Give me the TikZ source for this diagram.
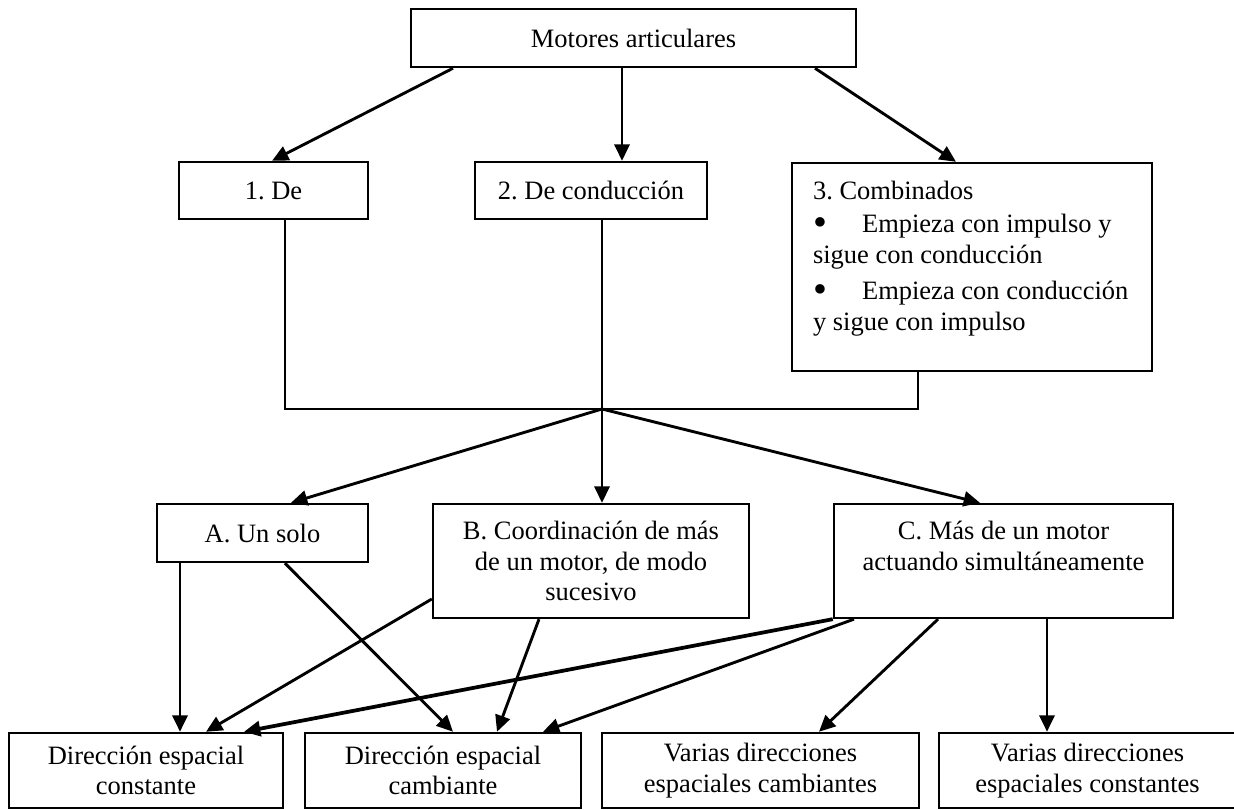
\documentclass[tikz,border=0pt]{standalone}
\usepackage{fontspec}
\setmainfont{Liberation Serif}
\usepackage{tikz}
\usetikzlibrary{arrows.meta}
\frenchspacing

\newcommand{\bigbullet}{\makebox[22.2pt][l]{\raisebox{-1.3pt}{\fontsize{18pt}{0pt}\selectfont\textbullet}}}

\begin{document}
\begin{tikzpicture}[
    x=0.453pt, y=-0.453pt,
    box/.style={rectangle, draw, line width=1.1pt, inner sep=0pt, align=center, font=\fontsize{12pt}{13.8pt}\selectfont},
    arrow/.style={-{Triangle[length=7.4pt, width=6.8pt]}, line width=1.3pt},
    link/.style={line width=0.8pt}
]
\useasboundingbox (0,0) rectangle (1234,810);

% Root
\node[box, minimum width=201.6pt, minimum height=26.3pt] (root) at (633.5,38) {Motores articulares};

% Kinds of motor
\node[box, minimum width=85.6pt, minimum height=25.8pt] (impulse) at (273.5,190.5) {1. De};
\node[box, minimum width=105.1pt, minimum height=25.8pt] (drive) at (591,190.5) {2. De conducción};
\node[box, inner xsep=9.5pt, align=left] (combined) at (972,267) {\parbox[c][94.2pt][t]{144pt}{\raggedright\vspace*{8pt}%
3. Combinados\\[1.4pt]
\bigbullet Empieza con impulso y\\
sigue con conducción\\[2.9pt]
\bigbullet Empieza con conducción\\
y sigue con impulso}};

% Number of motors
\node[box, minimum width=95.6pt, minimum height=26.3pt] (single) at (262.5,533) {A. Un solo};
\node[box, minimum width=143.1pt, minimum height=51.6pt] (successive) at (591,561) {B. Coordinación de más\\de un motor, de modo\\sucesivo};
\node[box, minimum width=153.6pt, minimum height=51.6pt] (simultaneous) at (1003.5,561) {C. Más de un motor\\actuando simultáneamente\\\mbox{}};

% Spatial directions
\node[box, minimum width=124.1pt, minimum height=34pt] (constdir) at (146,770.5) {Dirección espacial\\constante};
\node[box, minimum width=125pt, minimum height=34pt] (changedir) at (443,770.5) {Dirección espacial\\cambiante};
\node[box, minimum width=143.6pt, minimum height=34pt] (manychange) at (760.5,770.5) {Varias direcciones\\espaciales cambiantes};
\node[box, minimum width=134.5pt, minimum height=34pt] (manyconst) at (1087.5,770.5) {Varias direcciones\\espaciales constantes};

% Root to kinds
\draw[arrow] (root.south -| 453,0) -- (impulse.north -| 272,0);
\draw[arrow] (root.south -| 622,0) -- (drive.north -| 622,0);
\draw[arrow] (root.south -| 815,0) -- (combined.north -| 956,0);

% Kinds joined
\coordinate (hub) at (602,409);
\draw[link] (impulse.south -| 285,0) |- (hub);
\draw[link] (drive.south -| 602,0) -- (hub);
\draw[link] (combined.south -| 918,0) |- (hub);

% Hub to number of motors
\draw[arrow] (hub) -- (single.north -| 291,0);
\draw[arrow] (hub) -- (successive.north -| 602,0);
\draw[arrow] (hub) -- (simultaneous.north -| 980,0);

% Number of motors to directions
\draw[arrow] (single.south -| 180,0) -- (constdir.north -| 180,0);
\draw[arrow] (single.south -| 285,0) -- (changedir.north -| 453,0);
\draw[arrow] (successive.west |- 0,599) -- (constdir.north -| 206,0);
\draw[arrow] (successive.south -| 539,0) -- (changedir.north -| 497,0);
\draw[arrow, line width=1.7pt] (simultaneous.south west) -- (constdir.north -| 244,0);
\draw[arrow] (simultaneous.south -| 854,0) -- (changedir.north -| 543,0);
\draw[arrow] (simultaneous.south -| 938,0) -- (manychange.north -| 819,0);
\draw[arrow] (simultaneous.south -| 1047,0) -- (manyconst.north -| 1047,0);

\end{tikzpicture}
\end{document}
